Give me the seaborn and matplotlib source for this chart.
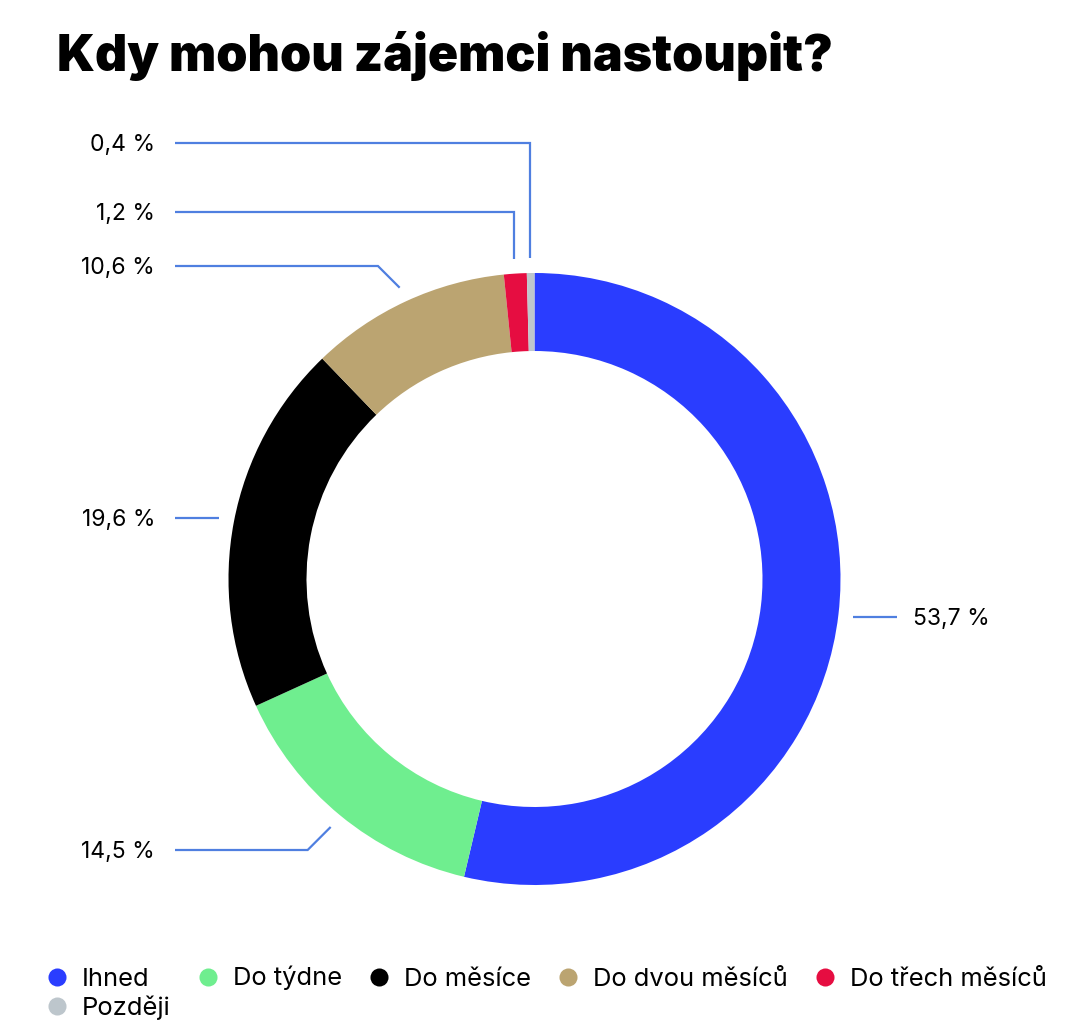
import matplotlib
matplotlib.use('Agg')
import matplotlib.pyplot as plt
import seaborn as sns
import numpy as np
from matplotlib.lines import Line2D

# Data
categories = ['Ihned', 'Do týdne', 'Do měsíce', 'Do dvou měsíců', 'Do třech měsíců', 'Později']
shares = [53.7, 14.5, 19.6, 10.6, 1.2, 0.4]
value_labels = ['53,7 %', '14,5 %', '19,6 %', '10,6 %', '1,2 %', '0,4 %']
colors = ['#2a3dff', '#6fee8f', '#000000', '#bba471', '#e60d41', '#bdc6cc']

title = 'Kdy mohou zájemci nastoupit?'

# label placement (pixel layout): side, label y, leader style
label_y = [617, 850, 518, 266, 212, 143]
label_side = ['right', 'left', 'left', 'left', 'left', 'left']
leader_style = ['flat', 'diag', 'flat', 'diag', 'vert', 'vert']

sns.set_theme(style='white')
plt.rcParams['font.family'] = ['Inter', 'DejaVu Sans']
plt.rcParams['text.color'] = 'black'

W, H = 1068, 1034
fig = plt.figure(figsize=(W / 100, H / 100), dpi=100)
ax = fig.add_axes([0, 0, 1, 1])

cx, cy, R = 534.5, 579, 306
wedges, _ = ax.pie(shares, colors=colors, radius=R, center=(cx, cy),
                   startangle=-90, counterclock=True,
                   wedgeprops=dict(width=78, linewidth=0))
ax.set_xlim(0, W)
ax.set_ylim(H, 0)
ax.set_aspect('equal')
ax.axis('off')

line_col = '#4f7fe0'
r_anchor = R + 15
for w, lab, ly, side, style in zip(wedges, value_labels, label_y, label_side, leader_style):
    th = np.deg2rad((w.theta1 + w.theta2) / 2)
    ax0 = cx + r_anchor * np.cos(th)
    ay0 = cy + r_anchor * np.sin(th)
    if side == 'right':
        ax.plot([ax0, 897], [ly, ly], color=line_col, lw=1.6, solid_capstyle='butt')
        ax.text(913, ly + 8, lab, ha='left', va='baseline', fontsize=16.5, color='black')
        continue
    if style == 'flat':
        xs, ys = [ax0, 175], [ly, ly]
    elif style == 'diag':
        dy = abs(ay0 - ly)
        xs, ys = [ax0, ax0 - dy, 175], [ay0, ly, ly]
    else:
        xs, ys = [ax0, ax0, 175], [ay0, ly, ly]
    ax.plot(xs, ys, color=line_col, lw=1.6, solid_capstyle='butt', solid_joinstyle='miter')
    ax.text(155, ly + 8, lab, ha='right', va='baseline', fontsize=16.5, color='black')

ax.text(57, 71, title, ha='left', va='baseline', fontsize=36, fontweight='black', color='black')

# legend: reorder so that Později lands under Ihned
order = [0, 5, 1, 2, 3, 4]
handles = [Line2D([], [], marker='o', linestyle='none', markersize=13,
                  markerfacecolor=colors[i], markeredgewidth=0) for i in order]
leg = fig.legend(handles, [categories[i] for i in order], ncol=5, loc='upper left',
                 bbox_to_anchor=(44 / W, 1 - 966 / H), frameon=False, fontsize=18.4,
                 handlelength=1.0, handletextpad=0.48, columnspacing=0.95,
                 labelspacing=0.2, borderpad=0, borderaxespad=0)
for t in leg.get_texts():
    t.set_color('black')

fig.savefig('out.png', dpi=100, facecolor='white')
